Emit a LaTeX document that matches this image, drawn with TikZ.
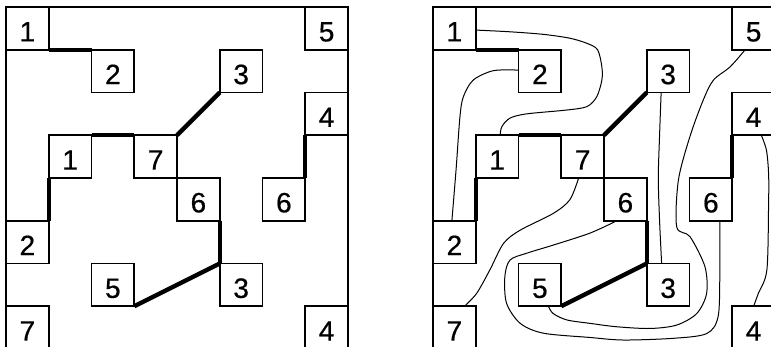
\documentclass[tikz,border=0pt]{standalone}
\usepackage{fontspec}
\newfontfamily\numfont[FakeBold=0.6]{Liberation Sans}
\begin{document}
\begin{tikzpicture}[x=1pt,y=-1pt,
  cell/.style={draw, line width=1.9pt, minimum width=42.75pt, minimum height=42.75pt,
    inner sep=0pt, outer sep=0pt, text height=26pt, text depth=0pt,
    font=\numfont\fontsize{28}{28}\selectfont},
  frame/.style={line width=1.9pt},
  heavy/.style={line width=4.4pt},
  wire/.style={line width=1pt}]
\useasboundingbox (0,0) rectangle (771,347);
% ---------------- left panel ----------------
\begin{scope}[shift={(6pt,-7pt)}, x=42.75pt, y=-42.75pt]
  \draw[frame] (0,0) rectangle (8,8);
  \node[cell] (L1)  at (0.5,0.5) {1};
  \node[cell] (L2)  at (2.5,1.5) {2};
  \node[cell] (L3)  at (5.5,1.5) {3};
  \node[cell] (L5)  at (7.5,0.5) {5};
  \node[cell] (L4)  at (7.5,2.5) {4};
  \node[cell] (L1b) at (1.5,3.5) {1};
  \node[cell] (L7)  at (3.5,3.5) {7};
  \node[cell] (L6)  at (4.5,4.5) {6};
  \node[cell] (L6b) at (6.5,4.5) {6};
  \node[cell] (L2b) at (0.5,5.5) {2};
  \node[cell] (L5b) at (2.5,6.5) {5};
  \node[cell] (L3b) at (5.5,6.5) {3};
  \node[cell] (L7b) at (0.5,7.5) {7};
  \node[cell] (L4b) at (7.5,7.5) {4};
  \draw[heavy] (L1.south east) -- (L2.north west);
  \draw[heavy] (L1b.north east) -- (L7.north west);
  \draw[heavy] (L7.north east) -- (L3.south west);
  \draw[heavy] (L1b.south west) -- (L2b.north east);
  \draw[heavy] (L6.south east) -- (L3b.north west);
  \draw[heavy] (L3b.north west) -- (L5b.south east);
  \draw[heavy] (L4.south west) -- (L6b.north east);
\end{scope}
% ---------------- right panel ----------------
\begin{scope}[shift={(433pt,-7pt)}, x=42.75pt, y=-42.75pt]
  \draw[frame] (0,0) rectangle (8,8);
  \node[cell] (R1)  at (0.5,0.5) {1};
  \node[cell] (R2)  at (2.5,1.5) {2};
  \node[cell] (R3)  at (5.5,1.5) {3};
  \node[cell] (R5)  at (7.5,0.5) {5};
  \node[cell] (R4)  at (7.5,2.5) {4};
  \node[cell] (R1b) at (1.5,3.5) {1};
  \node[cell] (R7)  at (3.5,3.5) {7};
  \node[cell] (R6)  at (4.5,4.5) {6};
  \node[cell] (R6b) at (6.5,4.5) {6};
  \node[cell] (R2b) at (0.5,5.5) {2};
  \node[cell] (R5b) at (2.5,6.5) {5};
  \node[cell] (R3b) at (5.5,6.5) {3};
  \node[cell] (R7b) at (0.5,7.5) {7};
  \node[cell] (R4b) at (7.5,7.5) {4};
  \draw[heavy] (R1.south east) -- (R2.north west);
  \draw[heavy] (R1b.north east) -- (R7.north west);
  \draw[heavy] (R7.north east) -- (R3.south west);
  \draw[heavy] (R1b.south west) -- (R2b.north east);
  \draw[heavy] (R6.south east) -- (R3b.north west);
  \draw[heavy] (R3b.north west) -- (R5b.south east);
  \draw[heavy] (R4.south west) -- (R6b.north east);
  % wires
  \draw[wire] plot[smooth] coordinates {([yshift=-1.7pt]R1.east) (1.8,0.58) (2.58,0.64)
     (3.2,0.73) (3.6,0.85) (3.85,1.0) (3.95,1.4) (3.95,1.71) (3.83,2.1) (3.6,2.33)
     (3.13,2.41) (2.19,2.5) (1.8,2.6) (1.61,2.8) ([xshift=3pt]R1b.north)};
  \draw[wire] plot[smooth] coordinates {([yshift=1pt]R2.west) (1.41,1.49) (0.94,1.71)
     (0.71,2.1) (0.63,2.57) (0.54,3.8) ([xshift=-2.5pt]R2b.north)};
  \draw[wire] plot[smooth] coordinates {([xshift=-4pt]R7.south) (3.2,4.51) (2.81,4.83)
     (2.04,5.22) (1.65,5.53) (1.33,6.15) (1.02,6.7) ([xshift=10pt]R7b.north)};
  \draw[wire] plot[smooth] coordinates {([xshift=-7pt]R3.south) (5.3,3) (5.27,4)
     (5.3,5) ([xshift=-6.5pt]R3b.north)};
  \draw[wire] plot[smooth] coordinates {([xshift=-8.5pt]R5.south) (6.95,1.4) (6.56,1.71)
     (6.32,2.18) (6.01,3.03) (5.74,4.05) (5.7,5.14) (6.01,5.37) (6.36,6.07) (6.4,6.7)
     (6.17,7.17) (5.7,7.44) (5.08,7.52) (4.3,7.48) (3.67,7.4) (3.13,7.32) (2.81,7.17)
     ([xshift=8.5pt]R5b.south)};
  \draw[wire] plot[smooth] coordinates {([xshift=-8.5pt]R6.south) (3.67,5.29) (2.81,5.57)
     (2.19,5.76) (1.8,5.92) (1.68,6.31) (1.72,6.93) (2.04,7.4) (2.58,7.63) (3.67,7.73)
     (4.45,7.79) (5.62,7.75) (6.4,7.64) (6.67,7.24) (6.71,6.15) ([xshift=9pt]R6b.south)};
  \draw[wire] plot[smooth] coordinates {([xshift=7.7pt]R4.south) (7.8,3.35) (7.85,3.9)
     (7.85,4.6) (7.81,6.15) (7.61,6.7) (R4b.north)};
\end{scope}
\end{tikzpicture}
\end{document}
